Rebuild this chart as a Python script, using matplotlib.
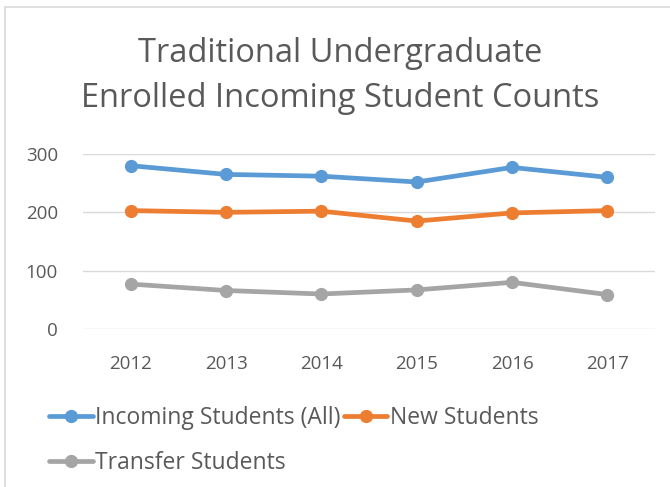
import matplotlib
matplotlib.use("Agg")
import matplotlib.pyplot as plt
from matplotlib.patches import Rectangle

years = ["2012", "2013", "2014", "2015", "2016", "2017"]
incoming = [280, 265, 262, 252, 277, 260]
new_students = [203, 200, 202, 185, 199, 203]
transfer = [77, 66, 60, 67, 80, 59]

plt.rcParams['font.family'] = ['Open Sans', 'DejaVu Sans']
txt = '#595959'

fig = plt.figure(figsize=(6.70, 4.87), dpi=100)
# chart outer border (cut at right/bottom like the screenshot)
fig.patches.append(Rectangle((5/670, -0.1), 1.2, 1 - 7/487 + 0.1, transform=fig.transFigure,
                             fill=False, edgecolor='#D9D9D9', linewidth=1.2))

ax = fig.add_axes([83/670, 1 - 329/487, (655 - 83)/670, (329 - 154)/487])
x = list(range(len(years)))
lines = []
for vals, col, lab in [(incoming, '#5B9BD5', 'Incoming Students (All)'),
                       (new_students, '#ED7D31', 'New Students'),
                       (transfer, '#A5A5A5', 'Transfer Students')]:
    l, = ax.plot(x, vals, color=col, lw=3.4, marker='o', ms=8.5, label=lab,
                 clip_on=False, solid_capstyle='round')
    lines.append(l)

ax.set_xlim(-0.5, len(years) - 0.5)
ax.set_ylim(0, 300)
ax.set_yticks([0, 100, 200, 300])
ax.set_xticks(x)
ax.set_xticklabels(years)
ax.grid(axis='y', color='#D9D9D9', lw=1)
ax.set_axisbelow(True)
for s in ax.spines.values():
    s.set_visible(False)
ax.tick_params(length=0, labelsize=13.5, colors=txt)
ax.tick_params(axis='x', pad=19)
ax.tick_params(axis='y', pad=18)

fig.text(340/670, 1 - 76/487, "Traditional Undergraduate\nEnrolled Incoming Student Counts",
         ha='center', va='center', fontsize=23.5, color=txt, linespacing=1.5)

fig.legend([lines[0], lines[2], lines[1]],
           [lines[0].get_label(), lines[2].get_label(), lines[1].get_label()],
           ncol=2, loc='upper left', bbox_to_anchor=(40/670, 1 - 397/487),
           frameon=False, fontsize=16.5, labelcolor=txt, handlelength=1.9,
           handletextpad=0.1, columnspacing=0.15, labelspacing=0.9, borderaxespad=0)

fig.savefig("out.png", dpi=100)
